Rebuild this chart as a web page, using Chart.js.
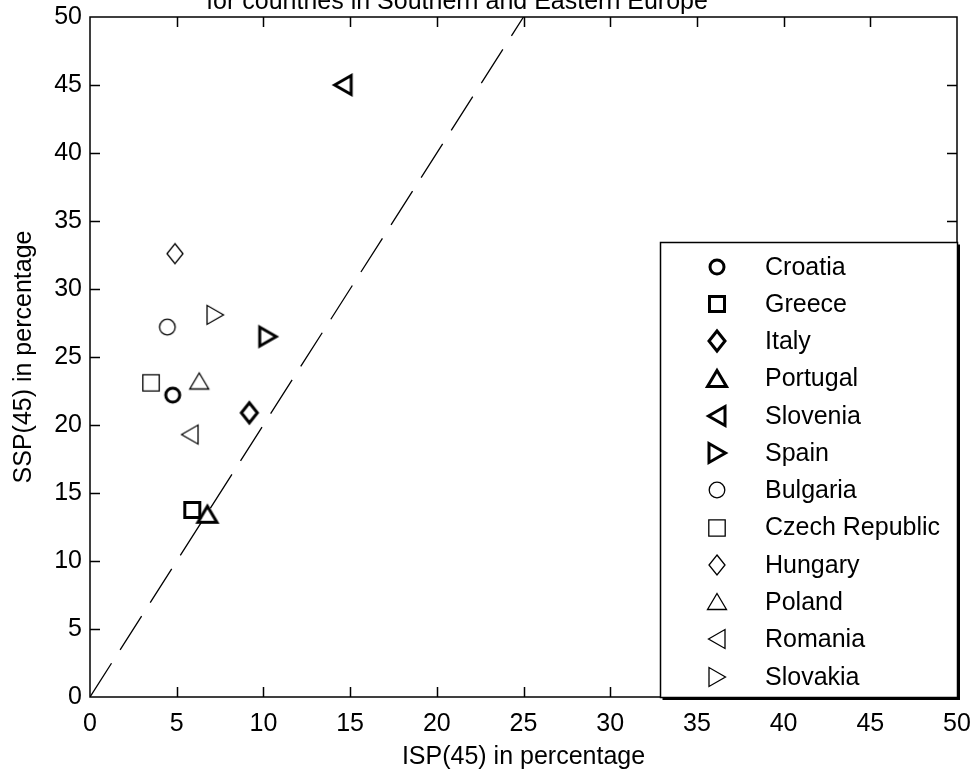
<!DOCTYPE html>
<html><head><meta charset="utf-8">
<script src="https://cdn.jsdelivr.net/npm/chart.js@4.4.0/dist/chart.umd.min.js"></script>
<style>html,body{margin:0;padding:0;background:#fff;}#wrap{width:972px;height:773px;}</style>
</head><body><div id="wrap"><canvas id="c" width="972" height="773"></canvas></div>
<script>
// ---- data ----
const countries = ['Croatia','Greece','Italy','Portugal','Slovenia','Spain','Bulgaria','Czech Republic','Hungary','Poland','Romania','Slovakia'];
const ispValues = [4.77, 5.90, 9.19, 6.77, 14.6, 10.25, 4.46, 3.52, 4.90, 6.30, 5.77, 7.21];
const sspValues = [22.2, 13.75, 20.9, 13.4, 45.0, 26.5, 27.2, 23.1, 32.6, 23.2, 19.3, 28.1];
const diagonalX = [0, 25];
const diagonalY = [0, 50];
const xTicks = [0, 5, 10, 15, 20, 25, 30, 35, 40, 45, 50];
const yTicks = [0, 5, 10, 15, 20, 25, 30, 35, 40, 45, 50];
const titleText = 'for countries in Southern and Eastern Europe';
const xLabel = 'ISP(45) in percentage';
const yLabel = 'SSP(45) in percentage';

// ---- styles ----
const markerShapes = ['circle','square','diamond','up','left','right','circle','square','diamond','up','left','right'];
const markerBold = [true,true,true,true,true,true,false,false,false,false,false,false];
const FONT = '"Liberation Sans", Arial, Helvetica, sans-serif';
Chart.defaults.font.family = FONT;
Chart.defaults.font.size = 25;
Chart.defaults.color = '#000';

function makeMarker(shape, bold) {
  const s = 36, c = document.createElement('canvas');
  c.width = s; c.height = s;
  const g = c.getContext('2d');
  g.translate(s / 2, s / 2);
  g.strokeStyle = '#000';
  g.lineWidth = bold ? 3 : 1.3;
  g.lineJoin = 'miter'; g.miterLimit = 3;
  g.beginPath();
  switch (shape) {
    case 'circle': g.arc(0, 0, bold ? 7 : 7.8, 0, Math.PI * 2); break;
    case 'square': { const h = bold ? 7.5 : 8.2; g.rect(-h, -h, 2 * h, 2 * h); break; }
    case 'diamond': g.moveTo(0, -10); g.lineTo(8, 0); g.lineTo(0, 10); g.lineTo(-8, 0); g.closePath(); break;
    case 'up': g.moveTo(0, -8.5); g.lineTo(9.5, 7.5); g.lineTo(-9.5, 7.5); g.closePath(); break;
    case 'left': g.moveTo(-8.5, 0); g.lineTo(8, -9.5); g.lineTo(8, 9.5); g.closePath(); break;
    case 'right': g.moveTo(8.5, 0); g.lineTo(-8, -9.5); g.lineTo(-8, 9.5); g.closePath(); break;
  }
  g.stroke();
  return c;
}
const markerImages = markerShapes.map((s, i) => makeMarker(s, markerBold[i]));

const datasets = countries.map((name, i) => ({
  label: name,
  data: [{ x: ispValues[i], y: sspValues[i] }],
  pointStyle: markerImages[i],
  pointRadius: 10,
  showLine: false
}));
datasets.push({
  label: 'diagonal',
  data: diagonalX.map((x, i) => ({ x: x, y: diagonalY[i] })),
  showLine: true,
  borderColor: '#000',
  borderWidth: 1.3,
  borderDash: [40, 16],
  pointRadius: 0,
  fill: false
});

const framePlugin = {
  id: 'frame',
  beforeDatasetsDraw(chart) {
    const { ctx, chartArea: a, scales: { x, y } } = chart;
    ctx.save();
    ctx.strokeStyle = '#000';
    ctx.lineWidth = 1.5;
    ctx.strokeRect(a.left, a.top, a.right - a.left, a.bottom - a.top);
    const L = 10;
    ctx.beginPath();
    xTicks.forEach(v => {
      if (v === xTicks[0] || v === xTicks[xTicks.length - 1]) return;
      const px = Math.round(x.getPixelForValue(v)) + 0.5;
      ctx.moveTo(px, a.bottom); ctx.lineTo(px, a.bottom - L);
      ctx.moveTo(px, a.top); ctx.lineTo(px, a.top + L);
    });
    yTicks.forEach(v => {
      if (v === yTicks[0] || v === yTicks[yTicks.length - 1]) return;
      const py = Math.round(y.getPixelForValue(v)) + 0.5;
      ctx.moveTo(a.left, py); ctx.lineTo(a.left + L, py);
      ctx.moveTo(a.right, py); ctx.lineTo(a.right - L, py);
    });
    ctx.stroke();
    ctx.fillStyle = '#000';
    ctx.font = '25px ' + FONT;
    ctx.textAlign = 'center';
    ctx.textBaseline = 'alphabetic';
    ctx.fillText(titleText, 457, 9);
    ctx.restore();
  },
  afterDraw(chart) {
    const { ctx } = chart;
    const lx = 660.5, ly = 242.5, lw = 297, lh = 455;
    ctx.save();
    ctx.fillStyle = '#fff';
    ctx.fillRect(lx, ly, lw, lh);
    ctx.strokeStyle = '#000';
    ctx.lineWidth = 1.5;
    ctx.strokeRect(lx, ly, lw, lh);
    ctx.lineWidth = 3;
    ctx.beginPath();
    ctx.moveTo(lx + lw + 1, ly + 2);
    ctx.lineTo(lx + lw + 1, ly + lh + 1);
    ctx.lineTo(lx + 2, ly + lh + 1);
    ctx.stroke();
    ctx.font = '25px ' + FONT;
    ctx.fillStyle = '#000';
    ctx.textAlign = 'left';
    ctx.textBaseline = 'middle';
    countries.forEach((name, i) => {
      const ry = 266.7 + 37.27 * i;
      const img = markerImages[i];
      ctx.drawImage(img, Math.round(716.7 - img.width / 2), Math.round(ry - img.height / 2));
      ctx.fillText(name, 765, ry + 1);
    });
    ctx.restore();
  }
};

new Chart(document.getElementById('c'), {
  type: 'scatter',
  data: { datasets },
  options: {
    responsive: false,
    animation: false,
    events: [],
    layout: { padding: { top: 17, right: 15, left: 0, bottom: 0 } },
    plugins: { legend: { display: false }, tooltip: { enabled: false }, title: { display: false } },
    scales: {
      x: {
        type: 'linear', position: 'bottom', min: 0, max: 50,
        grid: { display: false, drawTicks: false },
        border: { display: false },
        afterBuildTicks: s => { s.ticks = xTicks.map(v => ({ value: v })); },
        ticks: { padding: 12, maxRotation: 0, autoSkip: false, color: '#000', font: { size: 25 } },
        title: { display: true, text: xLabel, color: '#000', font: { size: 25 }, padding: { top: 0, bottom: 1 } },
        afterFit: s => { s.height = 76; s.paddingLeft = 0; s.paddingRight = 0; }
      },
      y: {
        type: 'linear', position: 'left', min: 0, max: 50,
        grid: { display: false, drawTicks: false },
        border: { display: false },
        afterBuildTicks: s => { s.ticks = yTicks.map(v => ({ value: v })); },
        ticks: { padding: 8, autoSkip: false, color: '#000', font: { size: 25 } },
        title: { display: true, text: yLabel, color: '#000', font: { size: 25 }, padding: { top: 9, bottom: 0 } },
        afterFit: s => { s.width = 90; s.paddingTop = 0; s.paddingBottom = 0; }
      }
    }
  },
  plugins: [framePlugin]
});
</script>
</body></html>
